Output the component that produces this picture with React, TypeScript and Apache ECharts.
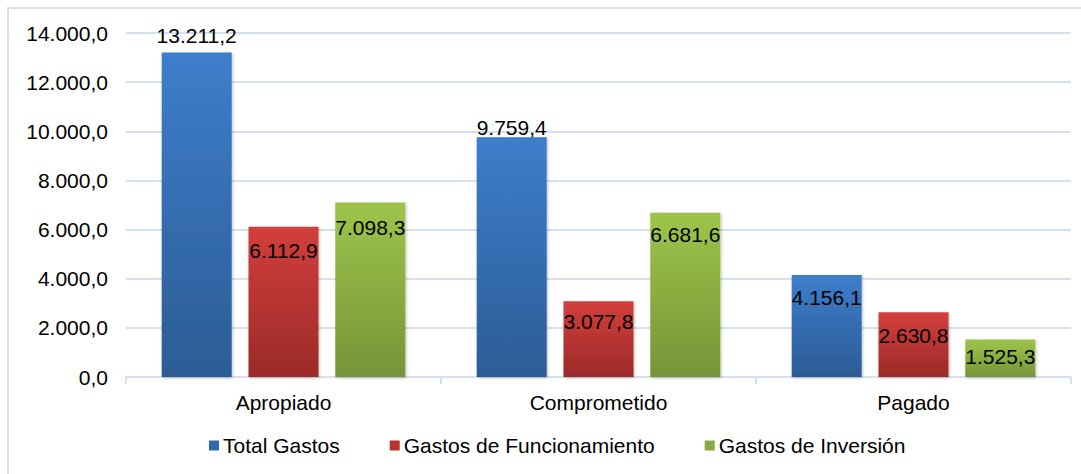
import React, { useEffect, useRef } from "react";
import * as echarts from "echarts";

const categories = ["Apropiado", "Comprometido", "Pagado"];
const seriesNames = ["Total Gastos", "Gastos de Funcionamiento", "Gastos de Inversión"];
const totalGastos = [13211.2, 9759.4, 4156.1];
const funcionamiento = [6112.9, 3077.8, 2630.8];
const inversion = [7098.3, 6681.6, 1525.3];

const yMin = 0;
const yMax = 14000;
const yInterval = 2000;

const FONT = "'Liberation Sans', Arial, sans-serif";
const FS = 21;

function fmt(v: number): string {
  const s = v.toFixed(1);
  const [intPart, dec] = s.split(".");
  const withDots = intPart.replace(/\B(?=(\d{3})+(?!\d))/g, ".");
  return withDots + "," + dec;
}

const gradients = [
  ["#3d7ecb", "#2c5c96"],
  ["#d23f3c", "#9c2a28"],
  ["#9dc54b", "#749537"],
];
const legendColors = ["#3068b0", "#b83432", "#86aa40"];

// label placement styling: [position, distance] per series per category
const labelStyle: [string, number][][] = [
  [["top", 6], ["top", -1], ["insideTop", 12]],
  [["insideTop", 13], ["insideTop", 10], ["insideTop", 13]],
  [["insideTop", 14], ["insideTop", 11], ["insideTop", 6]],
];

export default function App() {
  const ref = useRef<HTMLDivElement>(null);
  useEffect(() => {
    document.body.style.margin = "0";
    const chart = echarts.init(ref.current!, undefined, { renderer: "svg" });
    const allData = [totalGastos, funcionamiento, inversion];
    const series = allData.map((d, si) => ({
      name: seriesNames[si],
      type: "bar",
      barWidth: 70,
      barGap: "24%",
      itemStyle: {
        color: new echarts.graphic.LinearGradient(0, 0, 0, 1, [
          { offset: 0, color: gradients[si][0] },
          { offset: 1, color: gradients[si][1] },
        ]),
        shadowBlur: 3,
        shadowColor: "rgba(0,0,0,0.25)",
        shadowOffsetX: 1,
        shadowOffsetY: 1,
      },
      data: d.map((v, ci) => ({
        value: v,
        label: {
          show: true,
          position: labelStyle[si][ci][0],
          distance: labelStyle[si][ci][1],
          formatter: (p: any) => fmt(p.value),
          color: "#000",
          fontSize: FS,
          fontFamily: FONT,
        },
      })),
    }));
    chart.setOption({
      animation: false,
      backgroundColor: "#fff",
      textStyle: { fontFamily: FONT },
      graphic: [
        {
          type: "rect",
          shape: { x: 8, y: 8, width: 1100, height: 520 },
          style: { fill: "none", stroke: "#d6e1f0", lineWidth: 2 },
          silent: true,
          z: -10,
        },
      ],
      grid: { left: 126, right: 10, top: 33, bottom: 97 },
      legend: {
        bottom: 13,
        left: 204,
        itemWidth: 10,
        itemHeight: 10,
        itemGap: 50,
        icon: "rect",
        textStyle: { fontSize: FS, color: "#000", fontFamily: FONT, padding: [0, 0, 0, -1] },
        data: seriesNames.map((n, i) => ({ name: n, itemStyle: { color: legendColors[i] } })),
      },
      xAxis: {
        type: "category",
        data: categories,
        axisLine: { show: true, lineStyle: { color: "#d6e1f0", width: 2 } },
        axisTick: { show: true, length: 7, lineStyle: { color: "#d6e1f0", width: 2 } },
        axisLabel: { color: "#000", fontSize: FS, margin: 15, fontFamily: FONT },
      },
      yAxis: {
        type: "value",
        min: yMin,
        max: yMax,
        interval: yInterval,
        axisLine: { show: false },
        axisTick: { show: false },
        splitLine: { lineStyle: { color: "#d6e1f0", width: 2 } },
        axisLabel: {
          color: "#000",
          fontSize: FS,
          margin: 18,
          fontFamily: FONT,
          formatter: (v: number) => fmt(v),
        },
      },
      series,
    });
    return () => chart.dispose();
  }, []);
  return (
    <div
      ref={ref}
      style={{ position: "absolute", left: 0, top: 0, width: 1081, height: 474 }}
    />
  );
}
